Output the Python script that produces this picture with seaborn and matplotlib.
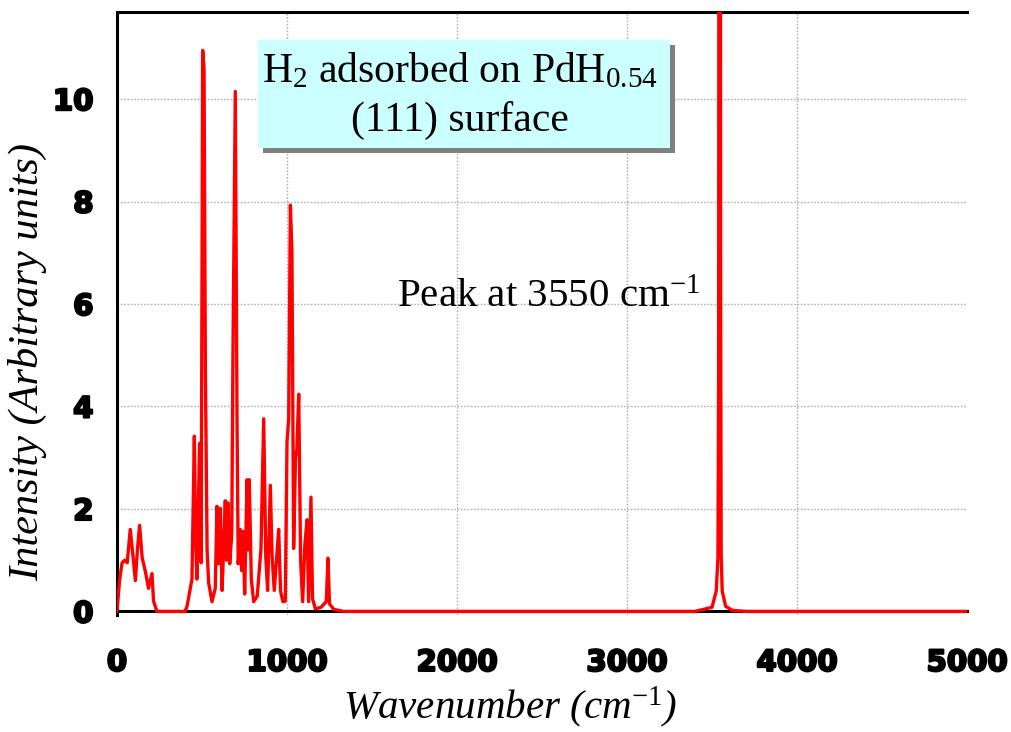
import numpy as np
import pandas as pd
import matplotlib
matplotlib.use("Agg")
import matplotlib.pyplot as plt
import matplotlib.patheffects as pe
import seaborn as sns
from matplotlib.patches import Rectangle

# spectrum (wavenumber in cm-1, intensity in arbitrary units)
wavenumber = [0, 15, 30, 45, 60, 78, 95, 108, 120, 133, 148, 167, 185, 206, 215, 235,
              300, 400, 412, 441, 455, 462, 470, 486, 495, 504, 512, 520, 525, 530,
              539, 559, 578, 588, 598, 608, 618, 628, 637, 645, 653, 663, 675, 682,
              696, 706, 713, 725, 733, 741, 751, 765, 772, 778, 790, 804, 825, 847,
              863, 875, 886, 902, 912, 925, 940, 951, 962, 976, 990, 1000, 1010,
              1020, 1029, 1039, 1050, 1058, 1069, 1080, 1092, 1105, 1118, 1127,
              1141, 1150, 1167, 1200, 1231, 1241, 1250, 1275, 1333,
              3400, 3500, 3525, 3535, 3539, 3543, 3547, 3551, 3554, 3560, 3580,
              3620, 3700, 5000]
intensity = [0.0, 0.6, 0.95, 1.0, 0.95, 1.6, 1.05, 0.6, 1.2, 1.68, 1.05, 0.78, 0.45, 0.74, 0.2, 0.0,
             0.0, 0.0, 0.1, 0.63, 3.42, 1.5, 0.63, 3.28, 0.95, 10.95, 10.6, 4.73, 2.9, 1.2,
             0.56, 0.19, 0.45, 2.05, 0.93, 2.01, 0.41, 1.3, 2.16, 1.0, 2.12, 0.93, 1.5, 4.99,
             10.15, 3.76, 0.93, 1.6, 0.8, 1.56, 0.34, 2.57, 1.2, 2.57, 0.63, 0.19, 0.3, 1.23,
             3.76, 1.08, 0.41, 2.46, 1.1, 0.41, 1.08, 1.6, 0.4, 0.19, 0.2, 3.31, 3.76,
             7.93, 7.04, 1.23, 3.0, 3.16, 4.24, 1.0, 0.19, 1.3, 1.79, 0.19,
             2.23, 0.25, 0.05, 0.08, 0.19, 1.04, 0.15, 0.04, 0.0,
             0.0, 0.08, 0.4, 1.05, 4.5, 30.0, 30.0, 5.8, 1.1, 0.4, 0.1,
             0.02, 0.0, 0.0]

x_ticks = [0, 1000, 2000, 3000, 4000, 5000]
y_ticks = [0, 2, 4, 6, 8, 10]

df = pd.DataFrame({"wavenumber": wavenumber, "intensity": intensity})

sns.set_style("white")
plt.rcParams["font.family"] = ["DejaVu Sans"]
plt.rcParams["text.color"] = "black"
plt.rcParams["axes.labelcolor"] = "black"
plt.rcParams["xtick.color"] = "black"
plt.rcParams["ytick.color"] = "black"
plt.rcParams["mathtext.fontset"] = "custom"
plt.rcParams["mathtext.rm"] = "Liberation Serif"
plt.rcParams["mathtext.it"] = "Liberation Serif:italic"

fig = plt.figure(figsize=(10.12, 7.32), dpi=100)
ax = fig.add_axes([117 / 1012, 1 - 615 / 732, 850 / 1012, 603 / 732])

sns.lineplot(data=df, x="wavenumber", y="intensity", ax=ax, color="#ff0000",
             linewidth=2.4, sort=False, estimator=None, zorder=3)

ax.set_xlim(0, 5000)
ax.set_ylim(-0.07, 11.7)
ax.spines["bottom"].set_position(("data", 0))
ax.spines["right"].set_visible(False)
for s in ["left", "bottom", "top"]:
    ax.spines[s].set_linewidth(2.2)
    ax.spines[s].set_color("black")

ax.set_xticks(x_ticks)
ax.set_yticks(y_ticks)
ax.tick_params(axis="both", direction="out", length=11, width=2.2, color="black")
ax.tick_params(axis="x", pad=16)
ax.tick_params(axis="y", pad=6)
for lab in ax.get_xticklabels() + ax.get_yticklabels():
    lab.set_fontsize(21)
    lab.set_fontweight("bold")
    lab.set_color("black")
    lab.set_path_effects([pe.withStroke(linewidth=1.6, foreground="black")])

ax.grid(True, linestyle=(0, (1.2, 1.2)), color="#b0b0b0", linewidth=1.0)
ax.set_axisbelow(True)
ax.xaxis.get_gridlines()[-1].set_visible(False)

ax.set_xlabel(r"Wavenumber (cm$^{\mathit{-1}}$)", family="Liberation Serif",
              style="italic", fontsize=29.5, color="black")
ax.set_ylabel("Intensity (Arbitrary units)", family="Liberation Serif",
              style="italic", fontsize=30.5, color="black")
ax.xaxis.set_label_coords(0.462, -0.153)
ax.xaxis.label.set_va("center")
ax.yaxis.set_label_coords(-0.105, 0.42)
ax.yaxis.label.set_va("center")

# label box with shadow
bx0, bx1 = (258 - 117) / 850, (670 - 117) / 850
by0, by1 = (615 - 148) / 603, (615 - 40) / 603
ax.add_patch(Rectangle((bx0 + 0.006, by0 - 0.009), bx1 - bx0, by1 - by0,
                       transform=ax.transAxes, facecolor="#808080",
                       edgecolor="none", zorder=4))
ax.add_patch(Rectangle((bx0, by0), bx1 - bx0, by1 - by0,
                       transform=ax.transAxes, facecolor="#ccffff",
                       edgecolor="none", zorder=5))
ax.text((bx0 + bx1) / 2 - 0.005, (by0 + by1) / 2 - 0.003,
        "H$_2$ adsorbed on PdH$_{0.54}$\n(111) surface",
        transform=ax.transAxes, ha="center", va="center", multialignment="center",
        family="Liberation Serif", fontsize=30, linespacing=1.3, zorder=6)

ax.text((397 - 117) / 850, (615 - 298) / 603, r"Peak at 3550 cm$^{-1}$",
        transform=ax.transAxes, ha="left", va="center",
        family="Liberation Serif", fontsize=29.5, zorder=6)

fig.savefig("out.png", dpi=100)
